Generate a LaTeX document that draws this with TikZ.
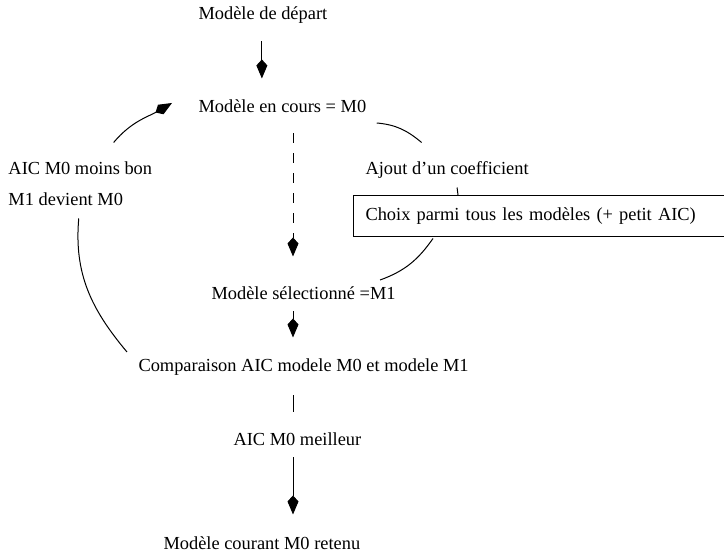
\documentclass[tikz,border=0pt]{standalone}
\usepackage{fontspec}
\setmainfont{Liberation Serif}
\usetikzlibrary{arrows.meta}

\begin{document}
\begin{tikzpicture}[x=0.5pt,y=0.5pt,line width=0.5pt,
    font=\fontsize{9.2}{11}\selectfont,
    lbl/.style={anchor=west,inner sep=0pt,text height=6.5pt,text depth=2pt},
    arr/.style={-{Kite[length=9.5pt,width=5.5pt,inset=3pt]}},
    boxed/.style={lbl,draw,inner xsep=6pt,minimum height=20.5pt,text width=215pt,align=left}]
        \useasboundingbox (0,0) rectangle (724,556);
        % texts
        \node[lbl] (depart) at (198,541) {Modèle de départ};
        \node[lbl] (cours) at (198,448) {Modèle en cours = M0};
        \node[lbl] (ajout) at (365,386) {Ajout d’un coefficient};
        \node[boxed] (choix) at (353,339.5) {Choix parmi tous les modèles (+ petit AIC)};
        \node[lbl] (moins) at (8,386) {AIC M0 moins bon};
        \node[lbl] (devient) at (8,355) {M1 devient M0};
        \node[lbl] (selec) at (211,261) {Modèle sélectionné =M1};
        \node[lbl] (comp) at (138,189) {Comparaison AIC modele M0 et modele M1};
        \node[lbl] (meilleur) at (233,115) {AIC M0 meilleur};
        \node[lbl] (retenu) at (163,11) {Modèle courant M0 retenu};
        \coordinate (spine) at (293,0);
        % main line
        \draw[arr,shorten <=8.75pt,shorten >=10.25pt] ([xshift=-0.5pt]depart.south) -- ([xshift=-0.5pt]depart.south |- cours.north);
        \draw[arr,dash pattern=on 5pt off 5pt,shorten <=8.25pt,shorten >=14.75pt] (spine |- cours.south) -- (spine |- selec.north);
        \draw[arr,shorten <=3.75pt,shorten >=10.25pt] (spine |- selec.south) -- (spine |- comp.north);
        \draw[shorten <=9.75pt,shorten >=9.75pt] (spine |- comp.south) -- (spine |- meilleur.north);
        \draw[arr,shorten <=3.75pt,shorten >=10.75pt] (spine |- meilleur.south) -- (spine |- retenu.north);
        % right loop
        \draw ([shift={(10,-15)}]cours.east) to[out=-5,in=140] ([shift={(-25.5,18.5)}]ajout.north);
        \draw ([shift={(10,-8.5)}]ajout.south) -- ([shift={(11,0)}]ajout.south |- choix.north);
        \draw ([shift={(80,-1)}]choix.south west) to[out=-125,in=20] ([shift={(-16,15)}]selec.east);
        % left loop
        \draw ([shift={(13,-8.5)}]devient.south) to[out=-95,in=130] ([shift={(-11,15)}]comp.west);
        \draw[arr] ([shift={(-39,18.5)}]moins.north east) to[out=50,in=-150] ([shift={(-26,5)}]cours.west);
\end{tikzpicture}
\end{document}
